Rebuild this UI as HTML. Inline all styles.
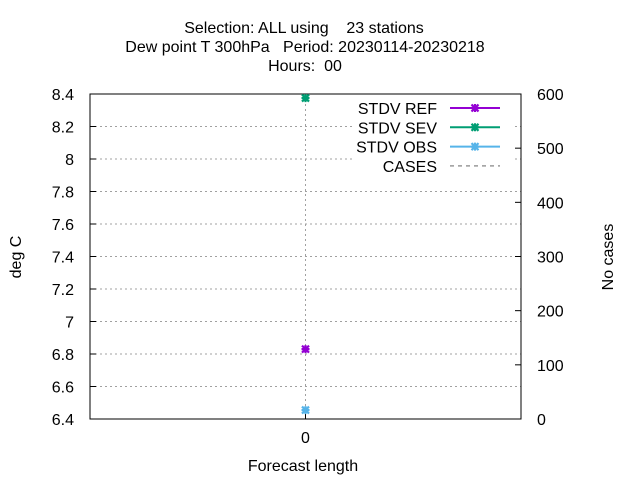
<!DOCTYPE html>
<html><head><meta charset="utf-8"><style>body{margin:0;background:#fff}svg{display:block;font-family:"Liberation Sans",sans-serif}text{white-space:pre}</style></head>
<body>
<svg id="c" width="640" height="480" viewBox="0 0 640 480">
<g font-size="16" text-anchor="middle" fill="#000">
<text x="304" y="33" xml:space="preserve">Selection: ALL using    23 stations</text>
<text x="305" y="52" xml:space="preserve">Dew point T 300hPa   Period: 20230114-20230218</text>
<text x="305" y="71" xml:space="preserve">Hours:  00</text>
</g>
<g id="grid"></g>
<g id="axes"></g>
<g id="legend"></g>
<g id="marks"></g>
<text x="21" y="257" font-size="16" text-anchor="middle" transform="rotate(-90 21 257)">deg C</text>
<text x="613" y="257" font-size="16" text-anchor="middle" transform="rotate(-90 613 257)">No cases</text>
<text x="303" y="471" font-size="16" text-anchor="middle">Forecast length</text>
</svg>
<script>
const xCategories=[0];
const yTicks=[6.4,6.6,6.8,7,7.2,7.4,7.6,7.8,8,8.2,8.4];
const y2Ticks=[0,100,200,300,400,500,600];
const refValues=[6.83];
const sevValues=[8.375];
const obsValues=[6.455];
const seriesNames=['STDV REF','STDV SEV','STDV OBS','CASES'];
const seriesColors=['#9400d3','#009e73','#56b4e9','#999999'];
const L=90,R=521,T=94,B=419,NS='http://www.w3.org/2000/svg';
const xs=v=>L+(v+1)/2*(R-L);
const ys=v=>B-(v-6.4)/2*(B-T);
const y2s=v=>B-v/600*(B-T);
function mk(p,t,a){const e=document.createElementNS(NS,t);for(const k in a)e.setAttribute(k,a[k]);document.getElementById(p).appendChild(e);return e;}
yTicks.forEach((v,i)=>{const y=ys(v);
 if(i>0&&i<yTicks.length-1){const g=mk('grid','line',{x1:L,x2:R,y1:y,y2:y,stroke:'#a0a0a0','stroke-dasharray':'2,3'});
 
 }
 mk('axes','line',{x1:L,x2:L+6,y1:y,y2:y,stroke:'#000'});
 const t=mk('axes','text',{x:L-16,y:y+6,'font-size':16,'text-anchor':'end'});t.textContent=String(v);
 
 });
y2Ticks.forEach(v=>{const y=y2s(v);
 mk('axes','line',{x1:R-6,x2:R,y1:y,y2:y,stroke:'#000'});
 const t=mk('axes','text',{x:R+16,y:y+6,'font-size':16});t.textContent=String(v);
 
 });
xCategories.forEach(v=>{const x=xs(v);
 const g=mk('grid','line',{x1:x,x2:x,y1:T,y2:B,stroke:'#a0a0a0','stroke-dasharray':'2,3'});
 
 
 mk('axes','line',{x1:x,x2:x,y1:B,y2:B-6,stroke:'#000'});mk('axes','line',{x1:x,x2:x,y1:T,y2:T+6,stroke:'#000'});
 const t=mk('axes','text',{x:x,y:B+24,'font-size':16,'text-anchor':'middle'});t.textContent=String(v);
 
 });
mk('axes','rect',{x:L,y:T,width:R-L,height:B-T,fill:'none',stroke:'#000'});
mk('legend','rect',{x:352,y:96,width:160,height:76,fill:'#fff'});
seriesNames.forEach((n,i)=>{const y=108+i*19.3;
 const t=mk('legend','text',{x:437,y:y+6,'font-size':16,'text-anchor':'end'});t.textContent=n;
 
 
 if(i<3){mk('legend','line',{x1:450,x2:500,y1:y,y2:y,stroke:seriesColors[i],'stroke-width':2});star('legend',475,y,seriesColors[i]);}
 else mk('legend','line',{x1:450,x2:500,y1:y,y2:y,stroke:seriesColors[i],'stroke-dasharray':'4,4','stroke-width':1.5});});
function star(p,x,y,c){mk(p,'path',{d:`M${x-3.5} ${y-3.5}L${x+3.5} ${y+3.5}M${x-3.5} ${y+3.5}L${x+3.5} ${y-3.5}M${x-4} ${y}H${x+4}M${x} ${y-4}V${y+4}`,stroke:c,'stroke-width':2.2,fill:'none'});}
[refValues,sevValues,obsValues].forEach((arr,si)=>arr.forEach((v,i)=>{star('marks',xs(xCategories[i]),ys(v),seriesColors[si]);}));
</script>
</body></html>
